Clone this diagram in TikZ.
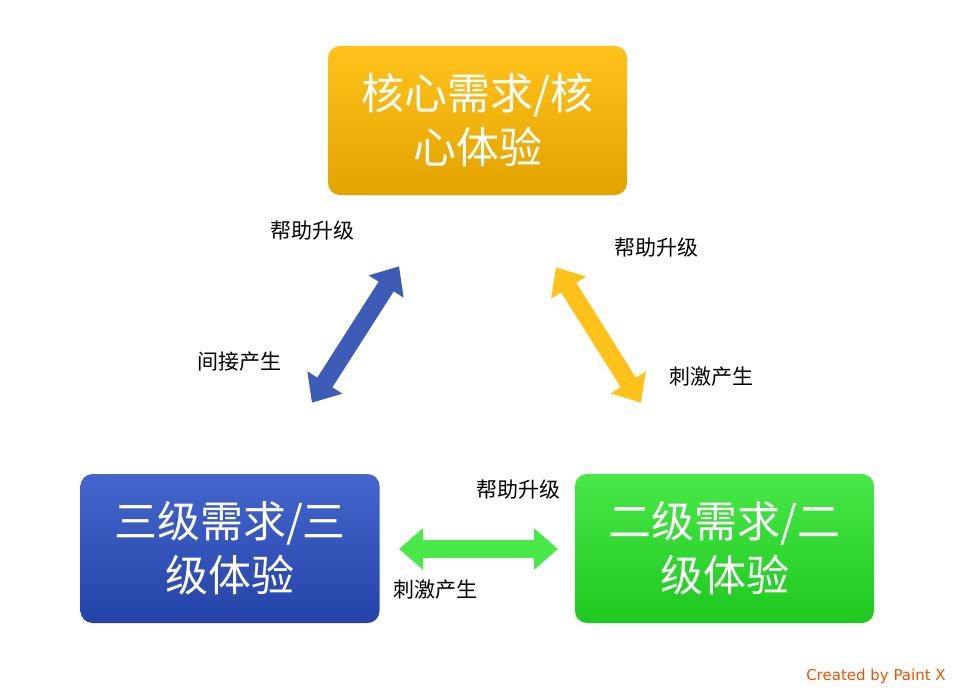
\documentclass[tikz,border=0pt]{standalone}
\usepackage{fontspec}
\setmainfont{Noto Sans CJK SC}
\newfontfamily\vf{DejaVu Sans}
\usetikzlibrary{arrows.meta}
\definecolor{otop}{HTML}{FFC21A}\definecolor{obot}{HTML}{E3A300}
\definecolor{btop}{HTML}{4466CC}\definecolor{bbot}{HTML}{2443A8}
\definecolor{gtop}{HTML}{48E848}\definecolor{gbot}{HTML}{1EC81E}
\begin{document}
\begin{tikzpicture}[x=1pt,y=-1pt,
  box/.style={rounded corners=12pt,text=white,font=\fontsize{43}{54}\selectfont,align=center,minimum width=299pt,minimum height=149pt},
  fat/.style={line width=18pt,{Triangle[width=40pt,length=24pt]}-{Triangle[width=40pt,length=24pt]},shorten <=-2pt,shorten >=-2pt},
  lbl/.style={font=\fontsize{21}{24}\selectfont}]
\useasboundingbox (0,0) rectangle (956,690);
\node[box,top color=otop,bottom color=obot] (top) at (477.5,120.5) {核心需求/核\\心体验};
\node[box,top color=btop,bottom color=bbot] (bl) at (230,548.5) {三级需求/三\\级体验};
\node[box,top color=gtop,bottom color=gbot] (br) at (724.5,548.5) {二级需求/二\\级体验};
\coordinate (b1) at (398,268); \coordinate (b2) at (313,401);
\coordinate (o1) at (557,269); \coordinate (o2) at (640,401);
\coordinate (g1) at (401,549); \coordinate (g2) at (556,549);
\draw[fat,draw=btop!90!black,fill=btop!90!black] (b2) -- (b1);
\draw[fat,draw=otop,fill=otop] (o1) -- (o2);
\draw[fat,draw=gtop,fill=gtop] (g1) -- (g2);
\node[lbl] (l1) at (312,231) {帮助升级};
\node[lbl] (l2) at (239,362) {间接产生};
\node[lbl] (l3) at (656,248) {帮助升级};
\node[lbl] (l4) at (711,377) {刺激产生};
\node[lbl] (l5) at (518,490) {帮助升级};
\node[lbl] (l6) at (435,590) {刺激产生};
\node[font=\vf\fontsize{15}{17}\selectfont,text={rgb,255:red,240;green,80;blue,0}] (cr) at (876,676) {Created by Paint X};
\end{tikzpicture}
\end{document}
